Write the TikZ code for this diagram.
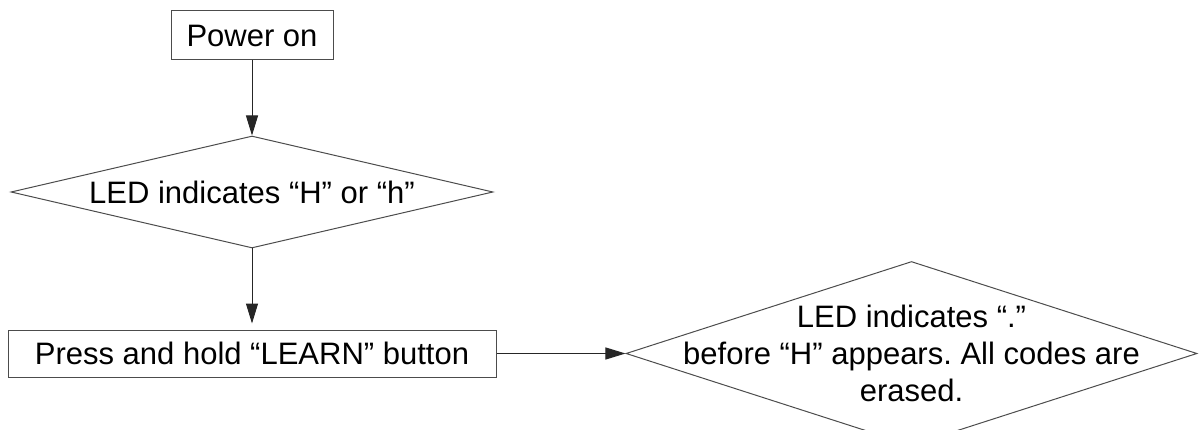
\documentclass[tikz,border=0pt]{standalone}
\usepackage{fontspec}
\setmainfont{Liberation Sans}
\usepackage{tikz}
\usetikzlibrary{arrows.meta, positioning, shapes.geometric}
\frenchspacing

\begin{document}
\begin{tikzpicture}[
  x=1pt, y=1pt,
  font=\fontsize{31}{37}\selectfont,
  block/.style={draw=black!70, line width=1pt, inner sep=0pt},
  decision/.style={draw=black!70, line width=1pt, diamond, inner sep=0pt},
  arrow/.style={-{Triangle[length=20pt, width=12pt]}, line width=1pt, draw=black!85},
  caption/.style={align=center}
]
  \useasboundingbox (0,0) rectangle (1199,-430);

  \node[block, minimum width=162pt, minimum height=49pt] (power) at (252,-35.5) {Power on};
  \node[decision, minimum width=482pt, minimum height=112pt, below=75pt of power,
        label={[caption]center:LED indicates “H” or “h”}] (check) {};
  \node[block, minimum width=488pt, minimum height=47pt, below=81pt of check] (learn) {Press and hold “LEARN” button};
  \node[decision, minimum width=571pt, minimum height=184pt, right=129pt of learn,
        label={[caption]center:LED indicates “.”\\before “H” appears. All codes are\\erased.}] (erase) {};

  \draw[arrow] (power) -- (check);
  \draw[arrow, shorten >=6pt] (check) -- (learn);
  \draw[arrow] (learn) -- (erase);
\end{tikzpicture}
\end{document}
